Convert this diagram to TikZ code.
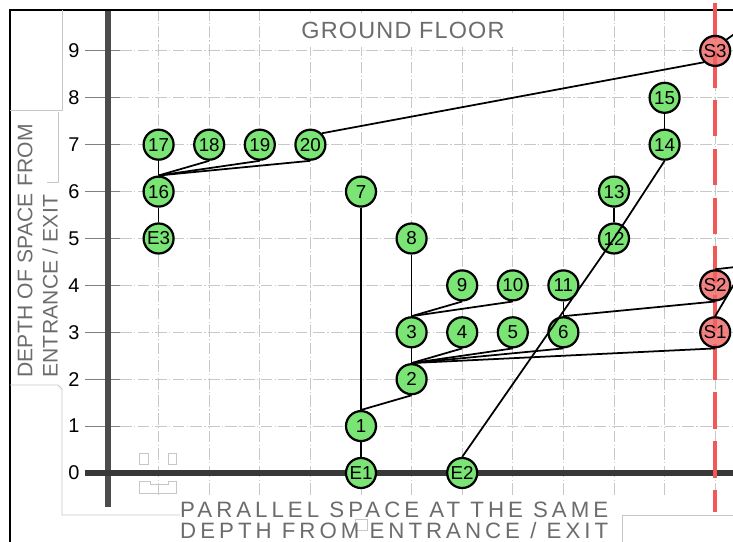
\documentclass[tikz,border=0pt]{standalone}
\usepackage{fontspec}
\setmainfont{Liberation Sans}
\definecolor{roomgreen}{RGB}{122,228,116}
\definecolor{stairred}{RGB}{240,100,100}
\definecolor{dashred}{RGB}{242,88,88}
\definecolor{cadgray}{RGB}{108,108,108}
\definecolor{gridgray}{RGB}{200,200,200}

\begin{document}
\begin{tikzpicture}[x=1.518cm, y=1.407cm,
  room/.style={circle, draw=black, line width=1.9pt, fill=roomgreen, minimum size=0.9cm, inner sep=0pt, font=\fontsize{16}{16}\selectfont},
  stair/.style={room, fill=stairred, fill opacity=0.8, text opacity=1},
  link/.style={black, line width=1.5pt},
  gridline/.style={gridgray, line width=0.7pt, dash pattern=on 10pt off 2pt on 1pt off 2pt},
  cadline/.style={black!22, line width=0.7pt},
  caption/.style={text=cadgray, inner sep=0pt, font=\fontsize{19}{19}\selectfont\addfontfeatures{LetterSpace=18}}
]
\clip (-2.1344,-1.4712) rectangle (12.3518,10.0853);

% grid and ticks
\foreach \r in {1,...,9} {
  \draw[black!50, line width=0.7pt] (-0.455,\r) -- (0.237,\r);
  \draw[gridline] (0.237,\r) -- (12.4,\r);
}
\foreach \c in {1,...,12}
  \draw[gridline] (\c,-0.469) -- (\c,9.872);
\foreach \r in {0,...,9}
  \node[text=black, font=\fontsize{17}{17}\selectfont] (tick\r) at (-0.672,\r) {\r};

% title
\node[caption, fill=white, inner xsep=0.3cm, minimum height=1.0cm,
  font=\fontsize{20}{20}\selectfont\addfontfeatures{LetterSpace=5}] (title) at (5.83,9.445) {GROUND FLOOR};

% axes
\draw[line width=4.8pt, black!70] (0,9.872) -- (0,-0.725);
\draw[line width=4.3pt, black!78] (-0.455,0) -- (12.4,0);

% frame
\draw[line width=1.8pt] (-1.937,-1.6) -- (-1.937,9.872) -- (12.4,9.872);

% cad outlines
\draw[cadline] (-0.909,9.872) -- (-0.909,7.740) -- (-1.937,7.740);
\draw[cadline] (-0.988,7.697) -- (-0.988,6.205) -- (-1.206,6.205);
\draw[cadline] (-1.937,1.876) -- (-0.988,1.876) -- (-0.909,1.791) -- (-0.909,-0.896) -- (1.423,-0.896);
\draw[cadline] (0.613,0.426) rectangle (0.791,0.192);
\draw[cadline] (1.186,0.426) rectangle (1.344,0.192);
\draw[cadline] (0.613,-0.171) -- (0.83,-0.171) -- (0.83,-0.235) -- (1.186,-0.235) -- (1.186,-0.171)
  -- (1.344,-0.171) -- (1.344,-0.426) -- (0.613,-0.426) -- cycle;
\draw[cadline] (4.881,-0.981) rectangle (5.119,-1.215);
\draw[cadline] (10.158,-1.6) -- (10.158,-0.896) -- (12.4,-0.896);

% axis captions
\node[caption, rotate=90, anchor=west, font=\fontsize{18}{18}\selectfont\addfontfeatures{LetterSpace=1}] (ylabA) at (-1.64,2.026) {DEPTH OF SPACE FROM};
\node[caption, rotate=90, anchor=west, font=\fontsize{18}{18}\selectfont\addfontfeatures{LetterSpace=1}] (ylabB) at (-1.146,2.026) {ENTRANCE / EXIT};
\node[caption, anchor=west] (xlabA) at (1.423,-0.78) {PARALLEL SPACE AT THE SAME};
\node[caption, anchor=west] (xlabB) at (1.423,-1.225) {DEPTH FROM ENTRANCE / EXIT};

% stair line
\draw[dashred, line width=3.8pt, dash pattern=on 31pt off 10.6pt] (12,10.03) -- (12,-0.832);

% rooms
\node[room] (E1) at (5,0) {E1};
\node[room] (E2) at (7,0) {E2};
\node[room] (E3) at (1,5) {E3};
\node[room] (r1) at (5,1) {1};
\node[room] (r2) at (6,2) {2};
\node[room] (r3) at (6,3) {3};
\node[room] (r4) at (7,3) {4};
\node[room] (r5) at (8,3) {5};
\node[room] (r6) at (9,3) {6};
\node[room] (r7) at (5,6) {7};
\node[room] (r8) at (6,5) {8};
\node[room] (r9) at (7,4) {9};
\node[room] (r10) at (8,4) {10};
\node[room] (r11) at (9,4) {11};
\node[room] (r12) at (10,5) {12};
\node[room] (r13) at (10,6) {13};
\node[room] (r14) at (11,7) {14};
\node[room] (r15) at (11,8) {15};
\node[room] (r16) at (1,6) {16};
\node[room] (r17) at (1,7) {17};
\node[room] (r18) at (2,7) {18};
\node[room] (r19) at (3,7) {19};
\node[room] (r20) at (4,7) {20};
\node[stair] (S1) at (12,3) {S1};
\node[stair] (S2) at (12,4) {S2};
\node[stair] (S3) at (12,9) {S3};

\coordinate (toS1) at (12.885,4.968);
\coordinate (toS2) at (12.885,4.45);
\coordinate (toS3) at (12.885,9.750);

% links
\draw[link] (E3.north) -- (r16.south);
\foreach \t in {r17,r18,r19,r20}
  \draw[link] (r16.north) -- (\t.south);
\draw[link] (r20.north east) -- (S3.south west);
\draw[link] (E1.north) -- (r1.south);
\draw[link] (r1.north) -- (r7.south);
\draw[link] (r1.north) -- (r2.south);
\draw[link] (r2.north) -- (r3.south);
\draw[link] (r3.north) -- (r8.south);
\draw[link] (r3.north) -- (r9.south);
\draw[link] (r3.north) -- (r10.south);
\foreach \t in {r4,r5,r6,S1}
  \draw[link] (r2.north) -- (\t.south);
\draw[link] (r6.north) -- (r11.south);
\draw[link] (r6.north) -- (S2.south);
\draw[link] (E2.north) -- (r12.center) -- (r14.south);
\draw[link] (r12.north) -- (r13.south);
\draw[link] (r14.north) -- (r15.south);
\draw[link] (S1.north) -- (toS1);
\draw[link] (S2.north) -- (toS2);
\draw[link] (S3.north east) -- (toS3);
\end{tikzpicture}
\end{document}
